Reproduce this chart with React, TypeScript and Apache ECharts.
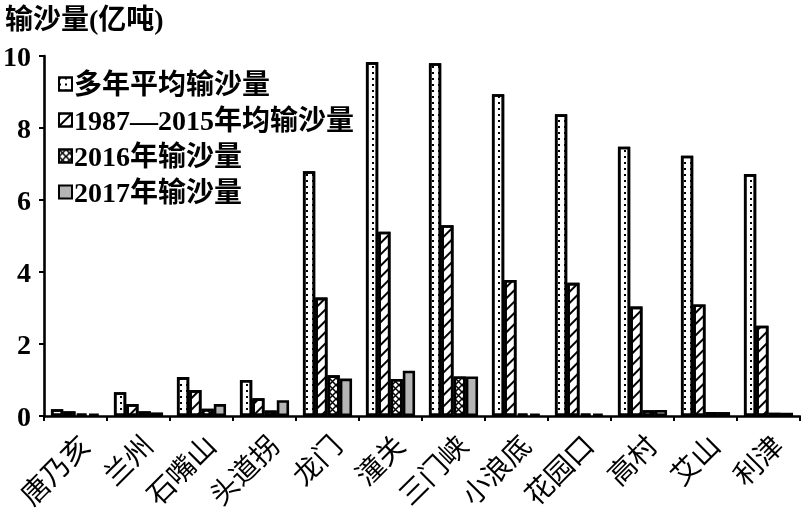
import React, { useEffect, useRef } from 'react';
import * as echarts from 'echarts';

const categories = ['唐乃亥', '兰州', '石嘴山', '头道拐', '龙门', '潼关', '三门峡', '小浪底', '花园口', '高村', '艾山', '利津'];
const seriesNames = ['多年平均输沙量', '1987—2015年均输沙量', '2016年输沙量', '2017年输沙量'];
const avgAll = [0.19, 0.66, 1.08, 1.0, 6.8, 9.83, 9.8, 8.94, 8.38, 7.48, 7.23, 6.72];
const avg8715 = [0.13, 0.33, 0.72, 0.49, 3.29, 5.12, 5.3, 3.78, 3.7, 3.04, 3.1, 2.51];
const y2016 = [0.07, 0.13, 0.2, 0.15, 1.13, 1.03, 1.1, 0.07, 0.07, 0.16, 0.11, 0.09];
const y2017 = [0.07, 0.1, 0.33, 0.44, 1.04, 1.26, 1.1, 0.07, 0.07, 0.17, 0.11, 0.09];
const yMin = 0;
const yMax = 10;
const yStep = 2;
const yTitle = '输沙量(亿吨)';

const FONT = '"Liberation Serif", "Noto Sans CJK SC", serif';

export default function App() {
  const ref = useRef<HTMLDivElement>(null);
  useEffect(() => {
    if (!ref.current) return;
    const chart = echarts.init(ref.current, null, { renderer: 'svg' });
    const border = { borderColor: '#000', borderWidth: 2.6 };
    const decals: any[] = [
      { symbol: 'rect', symbolSize: 1, color: '#000', backgroundColor: '#fff', dashArrayX: [1.5, 3.5], dashArrayY: [1.5, 3.5] },
      { symbol: 'rect', symbolSize: 1, color: '#000', backgroundColor: '#fff', dashArrayX: [1, 0], dashArrayY: [1.6, 6], rotation: -Math.PI / 4 },
      {
        symbol: 'path://M0,0L1.5,0L10,8.5L10,10L8.5,10L0,1.5Z M8.5,0L10,0L10,1.5L1.5,10L0,10L0,8.5Z',
        symbolSize: 1, color: '#000', backgroundColor: '#fff', dashArrayX: [7, 0], dashArrayY: [7, 0],
      },
      'none',
    ];
    const fills = ['#fff', '#fff', '#fff', '#b5b5b5'];
    const datas = [avgAll, avg8715, y2016, y2017];
    chart.setOption({
      animation: false,
      title: {
        text: yTitle,
        left: 0,
        top: 0,
        textStyle: { fontFamily: FONT, fontSize: 28, fontWeight: 'bold', color: '#000' },
      },
      legend: {
        orient: 'vertical',
        left: 53,
        top: 65,
        icon: 'rect',
        itemWidth: 13,
        itemHeight: 13,
        itemGap: 8,
        textStyle: { fontFamily: FONT, fontSize: 28, fontWeight: 'bold', color: '#000', padding: [0, 0, 0, -3] },
        data: seriesNames,
      },
      grid: { left: 43, right: 1, top: 56, bottom: 97, containLabel: false },
      xAxis: {
        type: 'category',
        data: categories,
        axisLine: { lineStyle: { color: '#000', width: 2.6 } },
        axisTick: { show: true, length: 5, lineStyle: { color: '#000', width: 2 } },
        axisLabel: { rotate: 45, fontFamily: FONT, fontSize: 28, color: '#000', margin: 15, interval: 0, verticalAlign: 'top' },
      },
      yAxis: {
        type: 'value',
        min: yMin,
        max: yMax,
        interval: yStep,
        splitLine: { show: false },
        axisLine: { show: true, lineStyle: { color: '#000', width: 2.6 } },
        axisTick: { show: true, length: 5, lineStyle: { color: '#000', width: 2 } },
        axisLabel: { fontFamily: FONT, fontSize: 28, fontWeight: 'bold', color: '#000', margin: 13 },
      },
      series: datas.map((d, i) => ({
        name: seriesNames[i],
        type: 'bar',
        data: d,
        barGap: '0%',
        barCategoryGap: '22%',
        itemStyle: { color: fills[i], ...border, decal: decals[i] },
      })),
    });
    return () => chart.dispose();
  }, []);
  return <div ref={ref} style={{ position: 'fixed', left: 0, top: 0, width: 801, height: 513 }} />;
}
